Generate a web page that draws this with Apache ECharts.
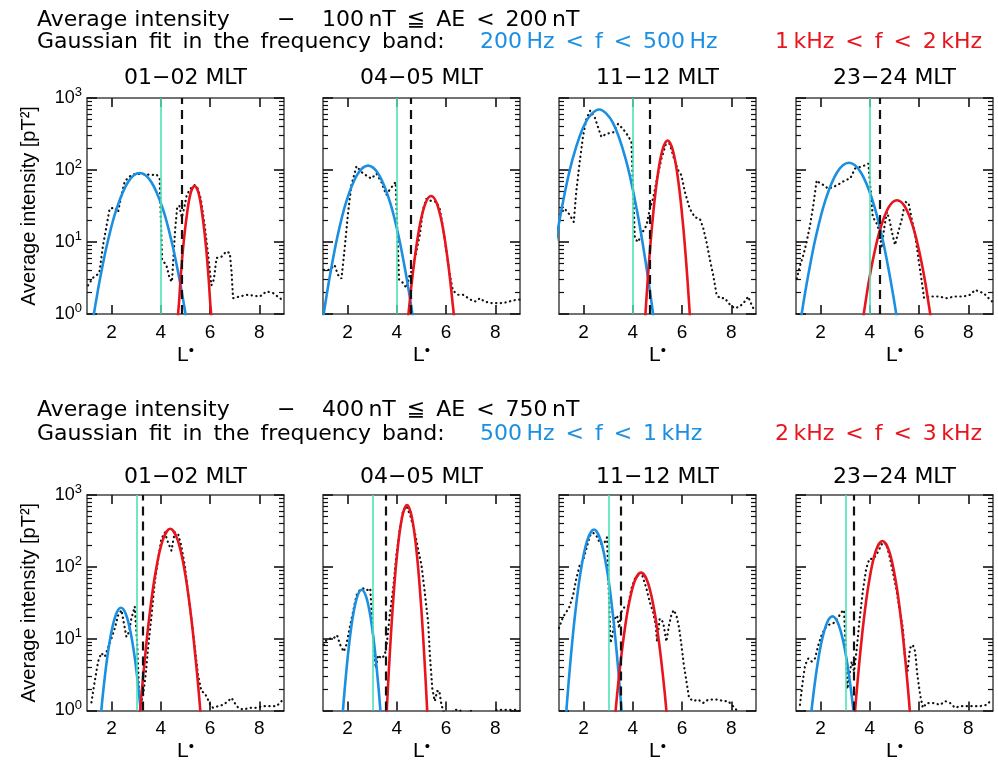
<!DOCTYPE html>
<html><head><meta charset="utf-8">
<script src="https://cdn.jsdelivr.net/npm/echarts@6/dist/echarts.min.js"></script>
<style>html,body{margin:0;padding:0;background:#fff}#c{width:998px;height:763px}</style>
</head><body><div id="c"></div>
<script>
// ---------- data ----------
const panelTitles = ['01−02 MLT', '04−05 MLT', '11−12 MLT', '23−24 MLT'];
const xTickValues = [2, 4, 6, 8];
const yMinorTicks = [2,3,4,5,6,7,8,9,20,30,40,50,60,70,80,90,200,300,400,500,600,700,800,900];
const greenL = [4, 4, 4, 4, 3, 3, 3, 3];
const dashL = [4.83, 4.56, 4.69, 4.41, 3.25, 3.53, 3.49, 3.33];

const headerTop = ['Average intensity', '−', '100\u2009nT\u2002≦\u2002AE\u2002<\u2002200\u2009nT', 'Gaussian\u2002fit\u2002in\u2002the\u2002frequency\u2002band:', '200\u2009Hz\u2002<\u2002f\u2002<\u2002500\u2009Hz', '1\u2009kHz\u2002<\u2002f\u2002<\u20022\u2009kHz'];
const headerBottom = ['Average intensity', '−', '400\u2009nT\u2002≦\u2002AE\u2002<\u2002750\u2009nT', 'Gaussian\u2002fit\u2002in\u2002the\u2002frequency\u2002band:', '500\u2009Hz\u2002<\u2002f\u2002<\u20021\u2009kHz', '2\u2009kHz\u2002<\u2002f\u2002<\u20023\u2009kHz'];

// AE 100-200 nT
const obs_100_0102 = [[1.04,2.5],[1.25,3.2],[1.5,3.7],[1.65,9],[1.92,29],[2.12,30],[2.26,26],[2.4,45],[2.53,69],[2.7,80],[2.87,87],[3.1,88],[3.41,87],[3.6,85],[3.82,87],[3.95,76],[4.05,5.6],[4.22,4.8],[4.36,3.1],[4.45,2.8],[4.58,15],[4.66,30],[4.75,32],[4.85,22],[4.95,30],[5.05,45],[5.2,55],[5.38,62],[5.5,55],[5.62,40],[5.78,17],[5.92,6.6],[6.05,2.5],[6.15,3],[6.26,6],[6.45,6.2],[6.66,7.4],[6.8,7],[6.87,3.9],[6.93,1.66],[7.2,1.75],[7.48,1.85],[7.75,1.8],[8.02,1.75],[8.29,2.06],[8.56,1.95],[8.83,1.66],[9,1.5]];
const blue_100_0102 = [[1.168,0.57],[1.28,1],[1.373,1.55],[1.559,3.5],[1.838,10],[2.21,29.5],[2.675,68.8],[3.14,91],[3.605,68.8],[4.07,29.5],[4.442,10],[4.721,3.5],[4.907,1.55],[5.0,1],[5.112,0.57]];
const red_100_0102 = [[4.665,0.6],[4.70,1],[4.74,1.49],[4.80,3.1],[4.90,8.1],[5.04,21.6],[5.20,46.6],[5.37,60],[5.54,46.6],[5.70,21.6],[5.84,8.1],[5.94,3.1],[6.00,1.49],[6.04,1],[6.075,0.6]];

const obs_100_0405 = [[1.03,4.1],[1.27,4.1],[1.47,4.8],[1.61,3.5],[1.75,3.1],[1.88,8.2],[2.02,26],[2.15,61],[2.36,113],[2.56,94],[2.76,84],[2.96,76],[3.17,89],[3.37,68],[3.57,45],[3.74,55],[3.95,68],[4.09,3.0],[4.25,2.7],[4.39,2.3],[4.52,3.5],[4.66,4.3],[4.79,7.4],[4.93,12.5],[5.07,29],[5.2,40],[5.4,37],[5.61,36],[5.74,29],[5.88,15.5],[6.01,7.4],[6.15,3.5],[6.28,2.1],[6.49,1.85],[6.69,1.85],[6.9,1.66],[7.1,1.5],[7.23,1.5],[7.37,1.66],[7.55,1.5],[7.78,1.42],[8.05,1.42],[8.32,1.42],[8.59,1.5],[8.86,1.58],[9,1.58]];
const blue_100_0405 = [[0.92,0.56],[1.03,1],[1.12,1.59],[1.30,3.7],[1.57,11.2],[1.93,35],[2.38,85],[2.83,115],[3.28,85],[3.73,35],[4.09,11.2],[4.36,3.7],[4.54,1.59],[4.63,1],[4.74,0.56]];
const red_100_0405 = [[4.415,0.63],[4.47,1],[4.52,1.45],[4.61,2.85],[4.75,6.9],[4.93,17],[5.16,34.5],[5.39,43.6],[5.62,34.5],[5.85,17],[6.03,6.9],[6.17,2.85],[6.26,1.45],[6.31,1],[6.365,0.63]];

const obs_100_1112 = [[1.03,24],[1.23,29],[1.43,24],[1.6,19],[1.7,50],[1.84,129],[1.98,300],[2.11,510],[2.27,670],[2.45,540],[2.59,390],[2.72,288],[2.92,318],[3.2,333],[3.4,437],[3.6,372],[3.8,300],[3.94,245],[4.08,11.2],[4.21,10],[4.41,14],[4.55,17],[4.69,29],[4.82,40],[4.98,76],[5.16,144],[5.34,230],[5.5,230],[5.67,144],[5.84,99],[5.97,85],[6.11,50],[6.31,29],[6.52,22],[6.72,21],[6.85,16],[6.99,10],[7.12,5.9],[7.26,3.5],[7.4,1.85],[7.53,1.66],[7.73,1.66],[7.94,1.35],[8.14,1.2],[8.34,1.27],[8.55,1.5],[8.68,1.75],[8.82,1.35],[8.95,1.09]];
const blue_100_1112 = [[0.77,6.1],[1.10,28],[1.535,135],[2.08,460],[2.63,692],[3.18,460],[3.725,135],[4.16,28],[4.49,6.1],[4.71,1.89],[4.82,1],[4.95,0.45]];
const red_100_1112 = [[4.456,0.5],[4.51,1],[4.555,1.72],[4.645,4.7],[4.78,17],[4.96,64],[5.185,182],[5.41,257],[5.635,182],[5.86,64],[6.04,17],[6.175,4.7],[6.265,1.72],[6.31,1],[6.364,0.5]];

const obs_100_2324 = [[1.03,3.1],[1.16,4.6],[1.3,6.6],[1.43,10],[1.57,17],[1.7,32],[1.84,72],[1.98,65],[2.11,62],[2.31,55],[2.52,58],[2.79,65],[2.99,72],[3.2,76],[3.4,105],[3.6,110],[3.8,116],[3.94,123],[4.12,22],[4.25,19],[4.39,14],[4.48,8.2],[4.58,15.5],[4.69,26],[4.79,21],[4.89,14],[5.02,9.1],[5.16,14],[5.3,21],[5.43,36],[5.57,35],[5.7,21],[5.84,12.5],[5.97,5.9],[6.11,2.8],[6.2,1.66],[6.45,1.75],[6.79,1.75],[7.12,1.66],[7.46,1.75],[7.8,1.75],[8.07,1.85],[8.28,2.17],[8.41,2.06],[8.62,1.95],[8.82,1.66],[8.96,1.5]];
const blue_100_2324 = [[1.115,0.55],[1.23,1],[1.326,1.6],[1.518,3.8],[1.806,11.8],[2.19,37.6],[2.67,93],[3.15,126],[3.63,93],[4.11,37.6],[4.494,11.8],[4.782,3.8],[4.974,1.6],[5.07,1],[5.185,0.55]];
const red_100_2324 = [[3.67,0.64],[3.75,1],[3.82,1.43],[3.95,2.74],[4.155,6.4],[4.425,15.3],[4.76,30.3],[5.1,38],[5.44,30.3],[5.775,15.3],[6.045,6.4],[6.25,2.74],[6.38,1.43],[6.45,1],[6.53,0.64]];

// AE 400-750 nT
const obs_400_0102 = [[1.18,1.3],[1.31,2.5],[1.45,4.8],[1.58,6.3],[1.72,5.6],[1.85,7.4],[1.99,10],[2.13,14],[2.26,21],[2.4,25],[2.49,17],[2.6,10.6],[2.71,12.5],[2.8,19],[2.94,28],[3.04,8.2],[3.11,2.0],[3.18,1.2],[3.28,1.66],[3.38,3.1],[3.48,7.4],[3.62,21],[3.75,61],[3.89,129],[4.02,245],[4.16,300],[4.29,219],[4.43,168],[4.56,300],[4.7,288],[4.83,196],[4.97,105],[5.1,45],[5.24,19],[5.38,7.4],[5.51,3.1],[5.65,1.85],[5.78,1.75],[5.92,1.4],[6.01,1.2],[6.12,1.09],[6.33,1.15],[6.53,1.2],[6.73,1.35],[6.87,1.5],[7.0,1.27],[7.14,1.09],[7.34,1.03],[7.61,1.09],[7.88,1.09],[8.15,1.15],[8.43,1.15],[8.7,1.15],[8.9,1.35],[9,1.4]];
const blue_400_0102 = [[1.53,0.67],[1.58,1],[1.62,1.38],[1.70,2.5],[1.82,5.4],[1.98,11.8],[2.18,21.9],[2.38,27],[2.58,21.9],[2.78,11.8],[2.94,5.4],[3.06,2.5],[3.14,1.38],[3.18,1],[3.23,0.67]];
const red_400_0102 = [[3.087,0.49],[3.16,1],[3.22,1.77],[3.343,5.0],[3.526,19.5],[3.77,79],[4.075,235],[4.38,339],[4.685,235],[4.99,79],[5.234,19.5],[5.417,5.0],[5.54,1.77],[5.60,1],[5.673,0.49]];

const obs_400_0405 = [[1.03,8.2],[1.14,9.6],[1.27,10],[1.41,10],[1.57,11.2],[1.7,8.2],[1.84,6.6],[1.95,8.2],[2.08,14],[2.22,23.6],[2.36,40],[2.49,47],[2.63,50],[2.76,47],[2.92,50],[3.03,11.2],[3.14,3.9],[3.24,5.9],[3.37,5.3],[3.51,5.9],[3.6,9.1],[3.71,21],[3.85,50],[3.98,144],[4.12,336],[4.25,600],[4.39,700],[4.55,510],[4.73,300],[4.86,178],[5.0,105],[5.13,45],[5.27,17],[5.34,5.9],[5.44,2.0],[5.54,1.35],[5.63,1.85],[5.72,1.9],[5.81,1.2],[5.9,0.96],[6.1,0.8],[6.35,1.02],[6.56,1.02],[6.76,0.8],[6.99,1.02],[7.2,0.7],[7.64,0.7],[8.05,1.02],[8.32,1.02],[8.59,1.02],[8.86,1.02],[9,0.98]];
const blue_400_0405 = [[1.764,0.62],[1.81,1],[1.848,1.46],[1.924,2.9],[2.04,7.2],[2.19,18.2],[2.38,37.6],[2.57,48],[2.76,37.6],[2.95,18.2],[3.10,7.2],[3.216,2.9],[3.292,1.46],[3.33,1],[3.376,0.62]];
const red_400_0405 = [[3.54,0.44],[3.59,1],[3.631,1.9],[3.713,6.2],[3.836,28.7],[4.0,140],[4.205,480],[4.41,724],[4.615,480],[4.82,140],[4.984,28.7],[5.107,6.2],[5.189,1.9],[5.23,1],[5.28,0.44]];

const obs_400_1112 = [[1.0,14],[1.16,20],[1.3,23.6],[1.43,28],[1.57,40],[1.7,68],[1.84,105],[1.98,123],[2.11,178],[2.25,270],[2.38,300],[2.52,270],[2.68,208],[2.82,208],[2.95,257],[3.09,8.7],[3.17,11.2],[3.26,19],[3.36,21],[3.44,14],[3.53,23.6],[3.67,28],[3.8,28],[3.94,50],[4.08,68],[4.21,76],[4.39,74],[4.55,50],[4.69,32],[4.82,23.6],[4.93,15.5],[4.98,9.1],[5.09,19],[5.23,17],[5.36,9.1],[5.47,15.5],[5.57,22],[5.66,25],[5.77,21],[5.88,14],[5.97,8.2],[6.07,4.3],[6.18,2.5],[6.28,1.5],[6.45,1.35],[6.65,1.42],[6.85,1.27],[7.06,1.42],[7.26,1.42],[7.46,1.42],[7.67,1.35],[7.87,1.35],[8.01,1.2],[8.14,1.09],[8.24,0.98]];
const blue_400_1112 = [[1.233,0.49],[1.30,1],[1.356,1.76],[1.468,5.0],[1.636,19.3],[1.86,78],[2.14,230],[2.42,331],[2.70,230],[2.98,78],[3.204,19.3],[3.372,5.0],[3.484,1.76],[3.54,1],[3.607,0.49]];
const red_400_1112 = [[3.238,0.58],[3.30,1],[3.35,1.54],[3.455,3.4],[3.61,9.5],[3.815,27.5],[4.07,63],[4.33,83],[4.59,63],[4.845,27.5],[5.05,9.5],[5.206,3.4],[5.31,1.54],[5.36,1],[5.422,0.58]];

const obs_400_2324 = [[1.16,1.2],[1.27,2.5],[1.37,4.3],[1.5,5.3],[1.64,4.8],[1.77,5.3],[1.91,8.2],[2.04,11.2],[2.18,14],[2.31,15.5],[2.45,16],[2.59,17],[2.72,20],[2.86,23.6],[2.95,25],[3.03,5.9],[3.09,2.0],[3.17,3.1],[3.26,4.8],[3.36,3.5],[3.47,7.4],[3.57,17],[3.71,45],[3.85,94],[3.98,129],[4.12,129],[4.25,144],[4.39,178],[4.52,219],[4.66,209],[4.79,144],[4.93,85],[5.07,50],[5.2,26],[5.34,14],[5.43,5.3],[5.53,3.5],[5.63,7.4],[5.74,8.2],[5.84,6.6],[5.93,3.1],[6.04,1.66],[6.15,1.09],[6.31,1.27],[6.58,1.27],[6.85,1.2],[7.06,1.35],[7.26,1.27],[7.46,1.09],[7.67,1.15],[7.94,1.15],[8.21,1.15],[8.48,1.15],[8.75,1.2],[8.89,1.35]];
const blue_400_2324 = [[1.58,0.69],[1.63,1],[1.673,1.34],[1.758,2.31],[1.885,4.66],[2.055,9.6],[2.27,16.9],[2.48,20.4],[2.69,16.9],[2.905,9.6],[3.075,4.66],[3.203,2.31],[3.288,1.34],[3.33,1],[3.38,0.69]];
const red_400_2324 = [[3.333,0.51],[3.40,1],[3.456,1.7],[3.567,4.5],[3.733,16],[3.955,59],[4.23,163],[4.51,229],[4.79,163],[5.065,59],[5.287,16],[5.454,4.5],[5.565,1.7],[5.62,1],[5.687,0.51]];

// ---------- chart ----------
const panels = [
  [obs_100_0102, blue_100_0102, red_100_0102],
  [obs_100_0405, blue_100_0405, red_100_0405],
  [obs_100_1112, blue_100_1112, red_100_1112],
  [obs_100_2324, blue_100_2324, red_100_2324],
  [obs_400_0102, blue_400_0102, red_400_0102],
  [obs_400_0405, blue_400_0405, red_400_0405],
  [obs_400_1112, blue_400_1112, red_400_1112],
  [obs_400_2324, blue_400_2324, red_400_2324]
];
const BLUE = '#1b8fe2', RED = '#e8151e', GREEN = '#4de3b7', FRAME = '#444', TICK = '#111';
const lefts = [87, 323, 559, 796], W = 197;
const rows = [{top: 98, h: 216}, {top: 495, h: 218}];
const HF = '"DejaVu Sans", sans-serif';
const AF = '"Liberation Sans", Arial, sans-serif';

const grid = [], xAxis = [], yAxis = [], series = [];
panels.forEach((p, i) => {
  const r = rows[Math.floor(i / 4)], c = i % 4;
  grid.push({left: lefts[c], top: r.top, width: W, height: r.h, containLabel: false});
  const xBase = {gridIndex: i, type: 'value', min: 1, max: 9, splitLine: {show: false},
    axisLine: {show: true, onZero: false, lineStyle: {color: FRAME, width: 1.5}}};
  const xTick = {show: true, inside: true, length: 9, customValues: xTickValues, lineStyle: {color: TICK, width: 1.6}};
  xAxis.push(Object.assign({}, xBase, {position: 'bottom', axisTick: xTick,
    axisLabel: {show: true, customValues: xTickValues, fontSize: 19, color: '#000', margin: 9, fontFamily: AF},
    name: '{l|L}{s|•}', nameLocation: 'middle', nameGap: 29,
    nameTextStyle: {rich: {l: {fontSize: 21, fontFamily: AF, color: '#000', lineHeight: 24},
                           s: {fontSize: 15, fontFamily: AF, color: '#000', verticalAlign: 'top', lineHeight: 12}}}}));
  xAxis.push(Object.assign({}, xBase, {position: 'top', axisTick: xTick, axisLabel: {show: false}}));
  ['left', 'right'].forEach(pos => {
    const main = {gridIndex: i, type: 'log', logBase: 10, min: 1, max: 1000, position: pos, splitLine: {show: false},
      axisLine: {show: true, onZero: false, lineStyle: {color: FRAME, width: 1.5}},
      axisTick: {show: true, inside: true, length: 10, lineStyle: {color: TICK, width: 1.6}},
      axisLabel: {show: pos === 'left' && c === 0, margin: 5,
        formatter: v => '{b|10}{e|' + Math.round(Math.log10(v)) + '}',
        rich: {b: {fontSize: 18, fontFamily: AF, color: '#000', lineHeight: 24},
               e: {fontSize: 13, fontFamily: AF, color: '#000', verticalAlign: 'top', lineHeight: 12}}}};
    if (pos === 'left' && c === 0) {
      Object.assign(main, {name: 'Average intensity [pT²]', nameLocation: 'middle', nameGap: 48,
        nameTextStyle: {fontSize: 20, fontFamily: AF, color: '#000'}});
    }
    yAxis.push(main);
    // minor ticks: a companion axis over the same grid, in decade units
    yAxis.push({gridIndex: i, type: 'value', min: 0, max: 3, position: pos, splitLine: {show: false},
      axisLine: {show: false, onZero: false},
      axisTick: {show: true, inside: true, length: 5, customValues: yMinorTicks.map(v => Math.log10(v)),
        lineStyle: {color: TICK, width: 1.2}},
      axisLabel: {show: false}});
  });
  const xi = 2 * i, yi = 4 * i;
  series.push({type: 'line', xAxisIndex: xi, yAxisIndex: yi, data: p[0], showSymbol: false, symbol: 'none',
    lineStyle: {color: '#111', width: 2.2, type: [0.3, 4.4], cap: 'round'}, z: 2, silent: true,
    markLine: {silent: true, symbol: ['none', 'none'], label: {show: false},
      data: [{xAxis: greenL[i], lineStyle: {color: GREEN, width: 1.6, type: 'solid'}},
             {xAxis: dashL[i], lineStyle: {color: '#111', width: 2.2, type: [9, 6]}}]}});
  series.push({type: 'line', xAxisIndex: xi, yAxisIndex: yi, data: p[1], showSymbol: false, symbol: 'none',
    smooth: 0.35, lineStyle: {color: BLUE, width: 2.6}, z: 3, silent: true});
  series.push({type: 'line', xAxisIndex: xi, yAxisIndex: yi, data: p[2], showSymbol: false, symbol: 'none',
    smooth: 0.35, lineStyle: {color: RED, width: 2.6}, z: 3, silent: true});
});

const graphic = [];
function txt(x, y, s, fill, align) {
  graphic.push({type: 'text', x: x, y: y, silent: true,
    style: {text: s, font: '22px ' + HF, fill: fill || '#000', align: align || 'left', verticalAlign: 'middle'}});
}
[[headerTop, 20, 42], [headerBottom, 410, 434]].forEach(([h, y1, y2]) => {
  txt(37, y1, h[0]); txt(277, y1, h[1]); txt(322, y1, h[2]);
  txt(37, y2, h[3]); txt(480, y2, h[4], BLUE); txt(775, y2, h[5], RED);
});
[78, 477].forEach(y => panelTitles.forEach((t, c) => txt(lefts[c] + W / 2, y, t, '#000', 'center')));

const chart = echarts.init(document.getElementById('c'), null, {renderer: 'canvas'});
chart.setOption({animation: false, backgroundColor: '#fff', grid, xAxis, yAxis, series, graphic});
</script></body></html>
